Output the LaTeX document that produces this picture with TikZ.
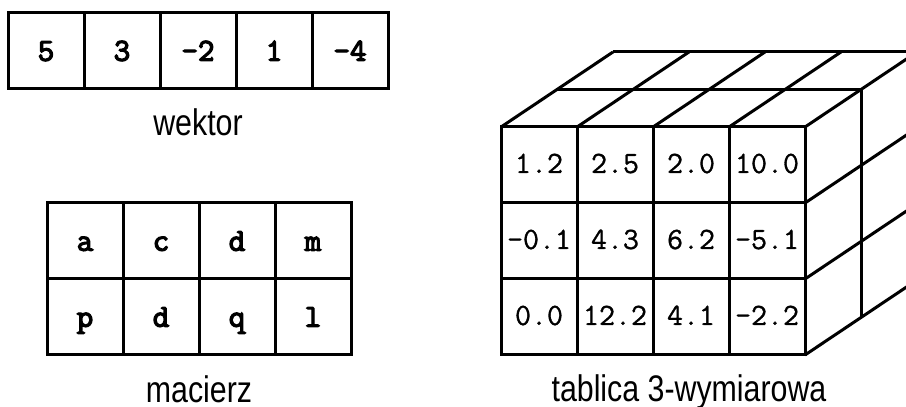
\documentclass[tikz,border=0pt]{standalone}
\usepackage{fontspec}
\newfontfamily\labelfont[FakeStretch=0.82]{Liberation Sans}
\newfontfamily\boldmono[FakeBold=4]{Latin Modern Mono}
\newfontfamily\plainmono[FakeBold=1]{Latin Modern Mono}
\usetikzlibrary{positioning}
\tikzstyle{cell} = [rectangle, draw=black, line width=3pt, minimum size=76pt, inner sep=0pt, outer sep=0pt, text height=19.5pt, text depth=0pt, font=\boldmono\fontsize{32}{34}\selectfont]
\tikzstyle{numcell} = [cell, text height=16pt, font=\plainmono\fontsize{31}{33}\selectfont]
\tikzstyle{caption} = [inner sep=0pt, font=\labelfont\fontsize{37}{40}\selectfont]
\tikzstyle{edge} = [line width=3pt]

\begin{document}
\begin{tikzpicture}[x=1pt, y=1pt, node distance=0pt]
\useasboundingbox (0,0) rectangle (906,407);
\clip (0,0) rectangle (906,407);

% Vector
\node (v1) [cell] at (46,356) {5};
\node (v2) [cell, right=of v1] {3};
\node (v3) [cell, right=of v2] {-2};
\node (v4) [cell, right=of v3] {1};
\node (v5) [cell, right=of v4] {-4};
\node (wektor) [caption, below=19pt of v3] {wektor};

% Matrix
\node (m11) [cell] at (85,166) {a};
\node (m12) [cell, right=of m11] {c};
\node (m13) [cell, right=of m12] {d};
\node (m14) [cell, right=of m13] {m};
\node (m21) [cell, below=of m11] {p};
\node (m22) [cell, right=of m21] {d};
\node (m23) [cell, right=of m22] {q};
\node (m24) [cell, right=of m23] {l};
\node (macierz) [caption, below=20pt of m22, xshift=38pt] {macierz};

% 3D array, front face
\node (t11) [numcell] at (539,242) {1.2};
\node (t12) [numcell, right=of t11] {2.5};
\node (t13) [numcell, right=of t12] {2.0};
\node (t14) [numcell, right=of t13] {10.0};
\node (t21) [numcell, below=of t11] {-0.1};
\node (t22) [numcell, right=of t21] {4.3};
\node (t23) [numcell, right=of t22] {6.2};
\node (t24) [numcell, right=of t23] {-5.1};
\node (t31) [numcell, below=of t21] {0.0};
\node (t32) [numcell, right=of t31] {12.2};
\node (t33) [numcell, right=of t32] {4.1};
\node (t34) [numcell, right=of t33] {-2.2};
\node (tablica) [caption, below=19pt of t33, xshift=-2pt] {tablica 3-wymiarowa};

% Top face
\draw [edge] ([shift={(56,37.5)}]t11.north west) -- ([shift={(56,37.5)}]t14.north east);
\draw [edge] ([shift={(112,75)}]t11.north west) -- ([shift={(112,75)}]t14.north east);
\draw [edge] (t11.north west) -- +(112,75);
\draw [edge] (t12.north west) -- +(112,75);
\draw [edge] (t13.north west) -- +(112,75);
\draw [edge] (t14.north west) -- +(112,75);
\draw [edge] (t14.north east) -- +(112,75);

% Right face
\draw [edge] ([shift={(56,37.5)}]t14.north east) -- ([shift={(56,37.5)}]t34.south east);
\draw [edge] (t14.south east) -- +(112,75);
\draw [edge] (t24.south east) -- +(112,75);
\draw [edge] (t34.south east) -- +(112,75);

\end{tikzpicture}
\end{document}
